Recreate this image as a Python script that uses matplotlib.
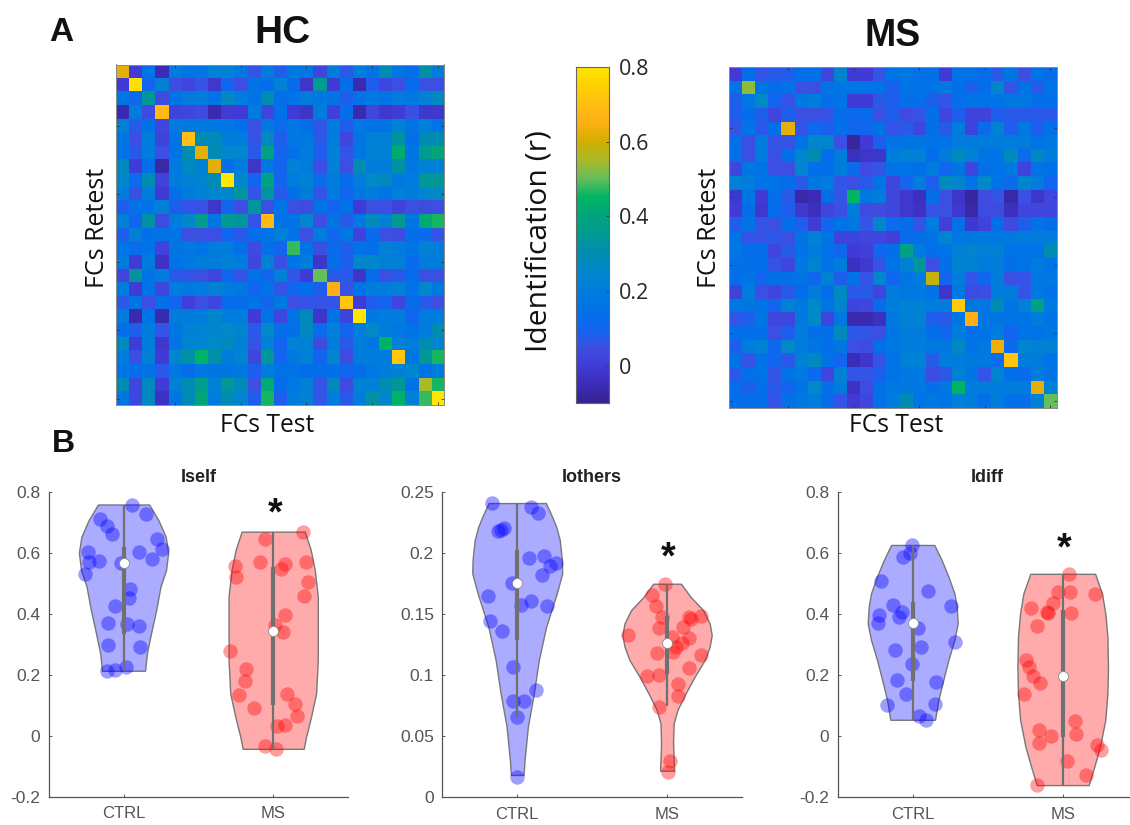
import numpy as np
import matplotlib
matplotlib.use("Agg")
import matplotlib.pyplot as plt
from matplotlib.colors import LinearSegmentedColormap

W, H = 1130, 825

hc_matrix = [
 [.62,0,.15,-.05,.2,.17,.17,.22,.22,.18,.06,.2,.08,.18,.18,.03,.2,.07,.2,.16,.3,.17,.13,.32,.2],
 [0,.78,.1,.22,.05,.03,.06,-.01,.1,.05,.15,.13,.22,.13,-.02,.35,0,.14,-.06,.08,.03,.05,.13,.05,.05],
 [.17,.11,.33,.04,.15,.2,.2,.15,.27,.2,.15,.3,.14,.15,.2,.17,.17,.08,.15,.18,.16,.2,.18,.22,.27],
 [-.06,.2,.04,.68,.02,.03,.04,-.06,0,0,.2,.03,.14,0,-.02,.2,.01,.14,-.06,.03,-.01,0,.05,-.01,-.01],
 [.22,.07,.14,.03,.2,.19,.18,.18,.18,.14,.05,.19,.12,.18,.14,.06,.2,.08,.18,.15,.15,.23,.16,.21,.15],
 [.17,.05,.2,.02,.16,.7,.3,.28,.2,.2,.06,.27,.08,.18,.18,.07,.2,.03,.17,.22,.22,.32,.14,.3,.3],
 [.16,.07,.2,.05,.16,.3,.62,.3,.25,.25,.07,.38,.09,.14,.2,.08,.22,.06,.17,.22,.22,.42,.17,.36,.4],
 [.27,0,.14,-.07,.19,.27,.22,.62,.14,.2,-.02,.18,.09,.22,.2,.05,.22,.05,.3,.2,.2,.32,.18,.22,.22],
 [.25,.12,.3,.02,.2,.22,.24,.3,.8,.25,.1,.38,.1,.2,.22,.12,.2,.13,.2,.26,.28,.18,.2,.34,.34],
 [.2,.05,.2,0,.14,.2,.22,.25,.25,.33,.06,.33,.07,.14,.2,.06,.2,.1,.18,.2,.15,.22,.2,.25,.26],
 [.08,.16,.15,.22,.08,.06,.05,-.02,.1,.05,.33,.05,.15,.05,.04,.16,.1,.16,0,.05,.05,.02,.05,.04,.05],
 [.22,.1,.32,.04,.2,.25,.36,.17,.35,.33,.06,.68,.15,.15,.25,.05,.17,.07,.18,.28,.22,.35,.17,.42,.46],
 [.08,.22,.14,.16,.15,.05,.05,.05,.1,.07,.14,.15,.22,.15,.05,.2,.1,.18,.02,.12,.05,.04,.14,.12,.06],
 [.17,.12,.15,.02,.17,.18,.15,.2,.2,.14,.04,.14,.1,.48,.15,.05,.12,.08,.15,.14,.22,.2,.15,.22,.2],
 [.2,0,.2,-.03,.15,.18,.2,.2,.22,.2,.03,.22,.05,.15,.2,-.02,.14,.08,.25,.25,.22,.22,.12,.2,.2],
 [.03,.33,.15,.2,.07,.06,.05,.03,.1,.06,.15,.1,.22,.06,0,.5,.07,.07,-.02,.13,.05,.07,.13,.05,.05],
 [.2,0,.15,.03,.2,.18,.2,.22,.2,.18,.1,.16,.06,.1,.14,.08,.65,.06,.15,.2,.2,.22,.15,.25,.18],
 [.07,.15,.05,.14,.1,.01,.05,.03,.13,.13,.16,.1,.18,.05,.06,.06,.06,.72,0,.08,.1,.03,.13,.07,.05],
 [.2,-.06,.16,-.06,.2,.2,.2,.25,.2,.2,0,.16,.03,.15,.28,-.02,.15,.02,.8,.18,.2,.2,.1,.2,.2],
 [.14,.08,.2,.06,.17,.22,.24,.25,.26,.24,.07,.26,.14,.14,.27,.12,.22,.09,.2,.26,.2,.18,.15,.2,.3],
 [.28,0,.2,-.01,.16,.24,.24,.26,.28,.22,.06,.22,.09,.22,.22,.04,.2,.07,.2,.17,.44,.22,.2,.3,.24],
 [.2,.05,.22,0,.25,.32,.44,.32,.2,.24,.03,.34,.1,.18,.22,.09,.25,.04,.2,.2,.2,.72,.17,.34,.46],
 [.15,.14,.16,.07,.18,.13,.18,.17,.17,.18,.08,.2,.16,.16,.13,.14,.14,.1,.13,.18,.2,.22,.25,.16,.2],
 [.3,.03,.27,0,.23,.3,.36,.22,.34,.28,.05,.42,.13,.18,.22,.06,.28,.04,.23,.22,.3,.34,.16,.55,.46],
 [.17,.03,.27,-.03,.17,.29,.4,.2,.3,.24,.08,.46,.08,.2,.22,.06,.2,.07,.2,.32,.25,.44,.22,.48,.8],
]

ms_matrix = [
 [0,.13,.06,.07,.08,.14,.14,.03,.24,0,0,.06,.15,.18,.14,.14,0,.16,.15,.13,.07,.17,.05,.15,.13],
 [.15,.53,.17,.13,.15,.05,.05,.15,.17,.17,.15,.15,.08,.15,.15,.16,.18,.14,.08,.13,.25,.06,.15,.07,.15],
 [.08,.18,.26,.1,.06,.18,.2,.14,.16,0,0,.07,.08,.14,.14,.08,.06,.14,.16,.16,.16,.18,.18,.14,.14],
 [.08,.13,.08,.03,.08,.05,.05,.06,.13,.12,.12,.05,.08,.04,.06,.14,.03,.08,.02,.02,.08,.07,.07,.07,.07],
 [.06,.15,.07,.13,.62,.06,.12,.08,.14,.1,.1,.15,.06,.07,.03,.14,.07,.2,.02,.12,.22,.08,.18,.08,.14],
 [.14,.05,.2,.06,.06,.16,.25,.25,.05,-.08,0,.08,.15,.17,.17,.16,.16,.2,.2,.2,.2,.2,.2,.15,.18],
 [.14,.05,.2,.05,.14,.25,.3,.13,.2,-.04,-.02,-.02,.2,.22,.22,.13,.2,.28,.22,.15,.15,.28,.12,.27,.2],
 [.03,.17,.15,.05,.05,.24,.14,.14,.2,.12,.04,.06,.15,.16,.14,.2,.1,.17,.03,.14,.15,.18,.02,.16,.14],
 [.22,.2,.16,.16,.13,.07,.18,.2,.06,.05,.07,.16,.03,.09,.2,.08,.28,.24,.16,.26,.15,.12,.24,.2,.1],
 [-.01,.17,0,.14,.07,-.07,-.05,.13,.06,.45,.18,.2,.03,-.01,-.04,.14,.05,-.02,-.08,.04,.06,-.07,.05,-.02,.03],
 [0,.13,-.01,.13,.08,-.01,-.04,.03,.05,.2,.04,.04,.03,-.01,-.03,.06,.05,-.01,-.07,.04,.04,-.04,.03,.03,.03],
 [.08,.16,.06,.05,.14,.08,0,.1,.15,.18,.06,.25,.12,.13,.06,.2,.01,.14,-.01,.02,.13,.04,.08,.15,.13],
 [.16,.06,.06,.07,.05,.17,.22,.17,.02,.02,.03,.03,.01,.12,.14,.15,.24,.18,.18,.18,.18,.19,.2,.2,.2],
 [.18,.13,.13,.03,.07,.16,.2,.15,.1,0,.01,.1,.14,.38,.2,.14,.16,.22,.24,.22,.22,.15,.16,.16,.3],
 [.14,.14,.14,.06,.03,.18,.24,.15,.2,-.04,-.01,.06,.15,.22,.33,.05,.14,.23,.23,.2,.2,.14,.16,.2,.16],
 [.14,.15,.09,.14,.14,.15,.11,.23,.08,.15,.06,.25,.1,.17,.2,.58,.1,.2,.06,.11,.2,.05,.06,.18,.18],
 [.02,.2,.05,.03,.07,.13,.2,.13,.27,.07,.07,.03,.2,.18,.18,.16,-.02,.18,.04,.05,.2,.2,.06,.18,.16],
 [.18,.17,.16,.1,.22,.18,.26,.17,.24,.02,.03,.13,.2,.22,.22,.2,.2,.73,.18,.18,.3,.16,.22,.38,.18],
 [.06,.08,.17,.03,.03,.19,.26,.03,.18,-.06,-.06,-.04,.18,.23,.23,.08,.07,.17,.65,.17,.17,.16,.16,.2,.15],
 [.14,.14,.14,.05,.08,.2,.14,.14,.28,.07,.06,.05,.17,.2,.2,.14,.1,.2,.14,.15,.2,.09,.16,.16,.18],
 [.08,.2,.22,.11,.26,.2,.17,.14,.17,.05,.04,.14,.18,.2,.2,.18,.18,.27,.15,.18,.63,.12,.24,.22,.22],
 [.16,.06,.16,.09,.07,.22,.27,.15,.1,-.05,-.02,.06,.15,.22,.22,.07,.2,.2,.18,.19,.12,.72,.2,.2,.15],
 [.07,.14,.15,.06,.15,.18,.12,.03,.22,.06,.06,.08,.16,.18,.18,.04,.07,.22,.17,.06,.24,.14,.12,.2,.15],
 [.14,.08,.14,.07,.09,.16,.26,.14,.2,-.03,.04,.14,.18,.19,.18,.14,.18,.45,.2,.2,.2,.2,.2,.62,.22],
 [.13,.13,.14,.06,.14,.18,.2,.13,.06,0,.03,.14,.2,.3,.15,.18,.15,.22,.2,.14,.2,.14,.14,.22,.5],
]

cmap_values = [-.1,-.05,0,.05,.09,.15,.2,.25,.3,.35,.4,.45,.5,.55,.6,.65,.7,.75,.8]
cmap_rgb = [(55,35,145),(60,45,185),(65,60,215),(60,80,228),(20,100,240),(0,115,232),(0,125,220),
            (0,135,205),(0,140,178),(0,155,145),(0,165,125),(0,180,100),(100,190,90),(170,185,40),
            (210,175,0),(255,175,20),(255,190,20),(255,210,0),(255,230,0)]

self_ctrl_x = [1.058,1.153,.84,.891,.924,1.224,.76,1.26,1.104,1.187,.767,.836,.742,.984,1.044,1.038,.942,.893,1.02,1.102,.898,1.111,.887,.942,1.016]
self_ctrl_y = [.758,.726,.71,.689,.662,.644,.601,.611,.601,.58,.57,.572,.529,.565,.482,.45,.425,.369,.367,.359,.296,.29,.211,.215,.224]
self_ms_x = [2.196,1.944,1.911,1.744,1.749,2.076,2.049,2.218,2.236,2.209,2.082,2.009,2.064,1.709,1.818,1.809,1.769,2.091,2.147,1.871,2.16,2.082,2.024,1.947,2.022]
self_ms_y = [.669,.644,.57,.558,.521,.564,.546,.57,.503,.457,.396,.362,.34,.279,.218,.18,.135,.136,.105,.092,.063,.035,.031,-.034,-.043]
self_ctrl_env_y = [.758,.707,.652,.6,.543,.489,.412,.336,.27,.213]
self_ctrl_env_w = [.171,.233,.282,.298,.284,.247,.218,.184,.156,.144]
self_ms_env_y = [.669,.609,.543,.456,.357,.248,.139,.062,-.003,-.043]
self_ms_env_w = [.211,.251,.278,.298,.298,.298,.287,.253,.22,.204]
self_ctrl_box = [.215,.335,.565,.62,.757]
self_ms_box = [-.043,.1,.342,.552,.669]

others_ctrl_x = [.831,1.089,1.14,.869,.891,.911,1.08,1.178,1.26,1.216,1.164,.964,.804,1.089,1.027,1.202,.82,.9,.973,1.122,.971,1.044,.998,1.0]
others_ctrl_y = [.2407,.2374,.2323,.2178,.2189,.22,.1955,.1974,.1919,.1889,.1818,.1756,.1649,.1608,.1576,.1565,.1445,.1358,.1063,.0881,.0785,.0785,.0657,.0169]
others_ms_x = [1.987,1.902,1.927,1.967,2.146,2.226,2.16,2.104,1.945,1.741,2.031,2.146,2.1,2.06,2.038,1.933,2.226,2.144,1.867,1.947,2.073,2.071,1.947,2.022,2.004]
others_ms_y = [.1747,.1655,.1567,.1472,.1477,.1483,.1461,.1396,.1385,.1325,.1311,.13,.1265,.1232,.1191,.118,.1167,.1058,.0992,.1,.093,.0831,.0736,.0294,.0207]
others_ctrl_env_y = [.2407,.2295,.2214,.2104,.1941,.1832,.1668,.1396,.1123,.0851,.0578,.0305,.0183]
others_ctrl_env_w = [.191,.233,.26,.284,.298,.3,.264,.193,.144,.111,.071,.049,.042]
others_ms_env_y = [.1747,.1641,.1532,.1423,.1328,.1232,.1123,.0987,.0851,.0714,.0605,.0442,.0305,.0218]
others_ms_env_w = [.093,.156,.24,.284,.298,.284,.251,.184,.124,.069,.044,.04,.044,.047]
others_ctrl_box = [.066,.129,.1755,.202,.2407]
others_ms_box = [.0745,.101,.1265,.148,.1747]

diff_ctrl_x = [.998,.984,.938,.791,1.1,1.258,.869,.931,.773,.909,.771,1.033,1.284,1.058,.88,.993,.893,1.156,.958,1.151,.829,1.04,1.087]
diff_ctrl_y = [.6255,.598,.585,.508,.474,.425,.428,.406,.397,.39,.369,.355,.307,.292,.283,.236,.183,.177,.136,.106,.1,.065,.051]
diff_ms_x = [2.044,1.967,2.047,2.218,1.933,1.791,1.893,1.902,2.053,1.831,1.758,1.773,1.8,1.849,1.74,2.082,1.842,1.924,2.087,1.844,2.229,2.253,2.027,2.156,1.829]
diff_ms_y = [.531,.47,.472,.465,.435,.42,.405,.403,.404,.359,.248,.227,.195,.174,.138,.05,.019,0,.006,-.023,-.031,-.046,-.082,-.127,-.162]
diff_ctrl_env_y = [.6255,.576,.522,.467,.424,.369,.315,.249,.184,.118,.053]
diff_ctrl_env_w = [.144,.193,.238,.278,.293,.3,.278,.238,.204,.171,.149]
diff_ms_env_y = [.531,.467,.402,.326,.227,.14,.053,-.034,-.1,-.161]
diff_ms_env_w = [.216,.262,.284,.298,.302,.298,.284,.249,.211,.173]
diff_ctrl_box = [.053,.18,.371,.44,.6255]
diff_ms_box = [-.161,-.005,.195,.413,.531]

group_labels = ["CTRL", "MS"]
colorbar_ticks = [0, .2, .4, .6, .8]
colorbar_ticklabels = ["0", "0.2", "0.4", "0.6", "0.8"]
SANS = "Open Sans"
ARIAL = "Liberation Sans"
DARK = "#262626"
GRAY = "#555555"

fig = plt.figure(figsize=(W / 100, H / 100), dpi=100)
fig.patch.set_facecolor("white")


def axes_px(left, top, right, bottom):
    return fig.add_axes([left / W, 1 - bottom / H, (right - left) / W, (bottom - top) / H])


def text_px(x, y, s, **kw):
    kw.setdefault("ha", "center")
    kw.setdefault("va", "center")
    kw.setdefault("color", "#111111")
    return fig.text(x / W, 1 - y / H, s, **kw)


span = cmap_values[-1] - cmap_values[0]
parula_like = LinearSegmentedColormap.from_list(
    "parula_like",
    [((v - cmap_values[0]) / span, tuple(c / 255 for c in rgb)) for v, rgb in zip(cmap_values, cmap_rgb)],
    N=256,
)


def heatmap(box, matrix):
    ax = axes_px(*box)
    ax.imshow(np.array(matrix), cmap=parula_like, vmin=-.1, vmax=.8, aspect="auto", interpolation="nearest")
    ticks = [4, 9, 14, 19, 24]
    ax.set_xticks(ticks)
    ax.set_yticks(ticks)
    ax.tick_params(which="both", direction="in", length=2.2, width=.6, color="#333333",
                   top=True, right=True, labelbottom=False, labelleft=False)
    for s in ax.spines.values():
        s.set_color("#8a8a8a")
        s.set_linewidth(.7)
    return ax


heatmap((115.5, 64.5, 444.5, 405.5), hc_matrix)
heatmap((729, 67, 1057, 408), ms_matrix)

cax = axes_px(575.7, 66.7, 609.3, 403.3)
gradient = np.linspace(-.1, .8, 256).reshape(-1, 1)
cax.imshow(gradient, cmap=parula_like, vmin=-.1, vmax=.8, aspect="auto", origin="lower", extent=[0, 1, -.1, .8])
cax.set_xticks([])
cax.yaxis.tick_right()
cax.set_yticks(colorbar_ticks)
cax.set_yticklabels(colorbar_ticklabels, fontfamily=SANS, fontsize=15.5, color=DARK)
cax.tick_params(axis="y", direction="in", length=2.5, width=.6, color="#333333", pad=7)
for s in cax.spines.values():
    s.set_color("#666666")
    s.set_linewidth(.8)

text_px(61, 41, "A", fontfamily=ARIAL, fontweight="bold", fontsize=24, va="baseline")
text_px(63, 452, "B", fontfamily=ARIAL, fontweight="bold", fontsize=23, va="baseline")
text_px(282, 43, "HC", fontfamily=ARIAL, fontweight="bold", fontsize=28, va="baseline")
text_px(893, 46, "MS", fontfamily=ARIAL, fontweight="bold", fontsize=27, va="baseline")
text_px(98, 228, "FCs Retest", fontfamily=SANS, fontsize=18, rotation=90)
text_px(710, 228, "FCs Retest", fontfamily=SANS, fontsize=18, rotation=90)
text_px(267, 425, "FCs Test", fontfamily=SANS, fontsize=17.7)
text_px(896, 425, "FCs Test", fontfamily=SANS, fontsize=17.7)
text_px(539, 241, "Identification (r)", fontfamily=SANS, fontsize=21.6, rotation=90)


def violin(ax, pos, env_y, env_w, xs, ys, box, color):
    ey, ew = np.array(env_y), np.array(env_w)
    ax.fill_betweenx(ey, pos - ew, pos + ew, facecolor=color + (.33,), edgecolor="#777777", linewidth=1.0, zorder=2)
    ax.scatter(xs, ys, s=108, color=color, alpha=.38, linewidths=0, zorder=3, clip_on=False)
    low, q1, med, q3, high = box
    ax.plot([pos, pos], [low, high], color="#707070", lw=1.6, zorder=4, solid_capstyle="butt")
    ax.plot([pos, pos], [q1, q3], color="#707070", lw=3.0, zorder=4, solid_capstyle="butt")
    ax.scatter([pos], [med], s=52, color="white", edgecolors="#8a8a8a", linewidths=.6, zorder=5)


def panel(box, title, ylim, yticks, yticklabels, ctrl, ms, star_y):
    ax = axes_px(*box)
    ax.set_xlim(.5, 2.5)
    ax.set_ylim(*ylim)
    violin(ax, 1, ctrl[0], ctrl[1], ctrl[2], ctrl[3], ctrl[4], (0, 0, 1))
    violin(ax, 2, ms[0], ms[1], ms[2], ms[3], ms[4], (1, 0, 0))
    ax.set_xticks([1, 2])
    ax.set_xticklabels(group_labels, fontfamily=ARIAL, fontsize=12, color=GRAY)
    ax.set_yticks(yticks)
    ax.set_yticklabels(yticklabels, fontfamily=ARIAL, fontsize=12.5, color=GRAY)
    ax.tick_params(direction="in", length=2.5, width=.7, color=GRAY)
    ax.tick_params(axis="y", pad=6)
    ax.tick_params(axis="x", pad=7)
    for side in ("top", "right"):
        ax.spines[side].set_visible(False)
    for side in ("left", "bottom"):
        ax.spines[side].set_color(GRAY)
        ax.spines[side].set_linewidth(.9)
    ax.text(.5, 1.048, title, transform=ax.transAxes, ha="center", va="center",
            fontfamily=ARIAL, fontweight="bold", fontsize=13, color="#222222")
    ax.text(2.01, star_y, "*", ha="center", va="center", fontfamily=ARIAL, fontweight="bold", fontsize=27, color="#111111")
    return ax


panel((48.7, 491.7, 348, 796.7), "Iself", (-.2, .8), [-.2, 0, .2, .4, .6, .8],
      ["-0.2", "0", "0.2", "0.4", "0.6", "0.8"],
      (self_ctrl_env_y, self_ctrl_env_w, self_ctrl_x, self_ctrl_y, self_ctrl_box),
      (self_ms_env_y, self_ms_env_w, self_ms_x, self_ms_y, self_ms_box), .725)
panel((442.3, 491.7, 742, 797.3), "Iothers", (0, .25), [0, .05, .1, .15, .2, .25],
      ["0", "0.05", "0.1", "0.15", "0.2", "0.25"],
      (others_ctrl_env_y, others_ctrl_env_w, others_ctrl_x, others_ctrl_y, others_ctrl_box),
      (others_ms_env_y, others_ms_env_w, others_ms_x, others_ms_y, others_ms_box), .195)
panel((837.7, 491.7, 1137.7, 797), "Idiff", (-.2, .8), [-.2, 0, .2, .4, .6, .8],
      ["-0.2", "0", "0.2", "0.4", "0.6", "0.8"],
      (diff_ctrl_env_y, diff_ctrl_env_w, diff_ctrl_x, diff_ctrl_y, diff_ctrl_box),
      (diff_ms_env_y, diff_ms_env_w, diff_ms_x, diff_ms_y, diff_ms_box), .61)

fig.savefig("out.png", dpi=100)
